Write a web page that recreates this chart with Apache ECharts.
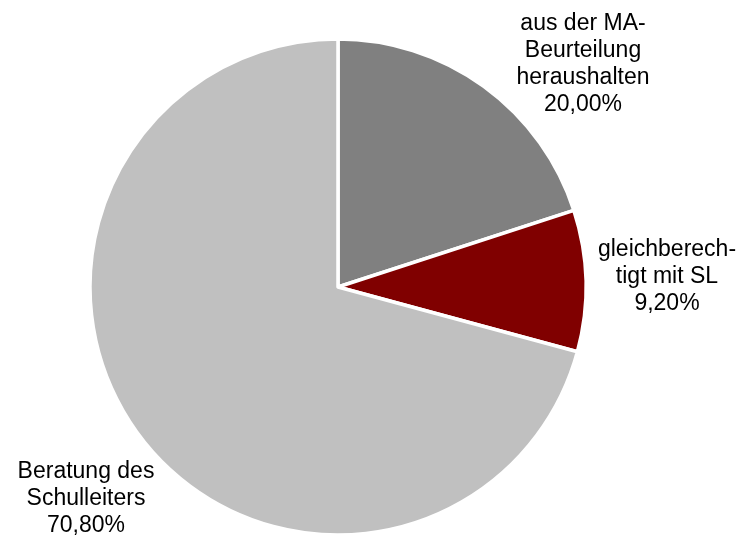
<!DOCTYPE html>
<html>
<head>
<meta charset="utf-8">
<script src="https://cdn.jsdelivr.net/npm/echarts@6/dist/echarts.min.js"></script>
<style>
  html, body { margin: 0; padding: 0; background: #ffffff; }
  #chart { width: 742px; height: 538px; }
</style>
</head>
<body>
<div id="chart"></div>
<script>
// Anteile der Antworten (in Prozent)
const categories = [
  'aus der MA-\nBeurteilung\nheraushalten',
  'gleichberech-\ntigt mit SL',
  'Beratung des\nSchulleiters'
];
const values = [20.0, 9.2, 70.8];
const colors = ['#808080', '#800000', '#c0c0c0'];

// Label anchor points (centre of each text block)
const labelAnchors = [[583, 64], [667, 277], [86, 499]];

const chart = echarts.init(document.getElementById('chart'), null, { renderer: 'canvas' });

chart.setOption({
  animation: false,
  backgroundColor: '#ffffff',
  series: [{
    type: 'pie',
    center: [338, 287],
    radius: [0, 248],
    startAngle: 90,
    clockwise: true,
    avoidLabelOverlap: false,
    itemStyle: { borderColor: '#ffffff', borderWidth: 3.5 },
    label: {
      show: true,
      position: 'outside',
      color: '#000000',
      fontFamily: 'Liberation Sans, Arial, sans-serif',
      fontSize: 23,
      lineHeight: 27,
      align: 'center',
      formatter: p => p.name + '\n' + p.value.toFixed(2).replace('.', ',') + '%'
    },
    labelLine: { show: false },
    labelLayout: p => ({
      x: labelAnchors[p.dataIndex][0],
      y: labelAnchors[p.dataIndex][1],
      align: 'center',
      verticalAlign: 'middle'
    }),
    data: categories.map((name, i) => ({
      name: name,
      value: values[i],
      itemStyle: { color: colors[i] }
    }))
  }]
});
</script>
</body>
</html>
